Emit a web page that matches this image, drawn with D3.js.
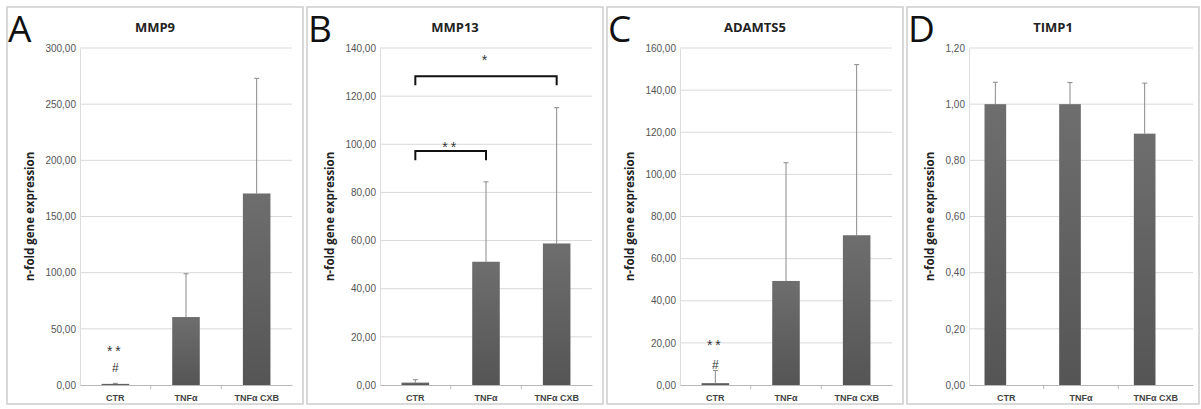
<!DOCTYPE html>
<html>
<head>
<meta charset="utf-8">
<script src="https://cdn.jsdelivr.net/npm/d3@7"></script>
<style>
  body { margin: 0; background: #fff; }
  svg { display: block; }
</style>
</head>
<body>
<div id="chart"></div>
<script>
// data
var categories = ["CTR", "TNFα", "TNFα CXB"];
var panelLetters = ["A", "B", "C", "D"];
var panelTitles = ["MMP9", "MMP13", "ADAMTS5", "TIMP1"];
var meansA = [1.0, 60.5, 170.5], sdA = [0.5, 38.5, 102.5];
var meansB = [1.0, 51.2, 58.8], sdB = [1.2, 33.2, 56.4];
var meansC = [0.9, 49.4, 71.1], sdC = [6.0, 56.1, 81.0];
var meansD = [1.0, 1.0, 0.895], sdD = [0.078, 0.077, 0.18];
var yMaxList = [300, 140, 160, 1.2];
var yStepList = [50, 20, 20, 0.2];
// significance marks: [category index, text, value height]
var marksA = [[0, "**", 25.5], [0, "#", 11.6]];
var marksC = [[0, "**", 16.8], [0, "#", 7.8]];
// brackets: [from, to, bar level, leg level, text, text level]
var bracketsB = [[0, 1, 97.2, 93.4, "**", 97.0], [0, 2, 128.3, 124.5, "*", 133]];

var means = [meansA, meansB, meansC, meansD];
var sds = [sdA, sdB, sdC, sdD];
var marks = [marksA, [], marksC, []];
var brackets = [[], bracketsB, [], []];

// layout
var W = 1201, H = 409;
var frameX0 = [7, 307, 607, 907], frameX1 = [303, 603, 903, 1199];
var plotL = [80, 380, 680, 969], plotR = [292, 592, 892, 1193];
var plotTop = 48, plotBottom = 385;
var barRatio = [0.39, 0.39, 0.39, 0.29];
var barShift = [0, 0, 0, -11];

var svg = d3.select("#chart").append("svg")
    .attr("width", W)
    .attr("height", H);

var defs = svg.append("defs");
var grad = defs.append("linearGradient")
    .attr("id", "barGrad")
    .attr("x1", 0).attr("y1", 0).attr("x2", 0).attr("y2", 1);
grad.append("stop").attr("offset", "0%").attr("stop-color", "#6e6e6e");
grad.append("stop").attr("offset", "100%").attr("stop-color", "#555555");

var fmt = function(v) { return d3.format(".2f")(v).replace(".", ","); };

for (var p = 0; p < 4; p++) {
  var g = svg.append("g");

  // panel frame
  g.append("rect")
      .attr("x", frameX0[p]).attr("y", 7)
      .attr("width", frameX1[p] - frameX0[p])
      .attr("height", 397)
      .style("fill", "none")
      .style("stroke", "#cdcdcd")
      .style("stroke-width", 1.5);

  var x = d3.scaleBand().domain(categories).range([plotL[p], plotR[p]]);
  var y = d3.scaleLinear().domain([0, yMaxList[p]]).range([plotBottom, plotTop]);
  var ticks = d3.range(0, yMaxList[p] + yStepList[p] / 2, yStepList[p]);

  // gridlines
  g.selectAll(".grid").data(ticks.slice(1)).enter().append("line")
      .attr("x1", plotL[p]).attr("x2", plotR[p])
      .attr("y1", function(d) { return y(d); })
      .attr("y2", function(d) { return y(d); })
      .style("stroke", "#d9d9d9")
      .style("stroke-width", 1);

  // y axis
  var yAxis = g.append("g")
      .attr("transform", "translate(" + plotL[p] + ",0)")
      .call(d3.axisLeft(y).tickValues(ticks).tickFormat(fmt).tickSize(0).tickPadding(4));
  yAxis.select(".domain").style("stroke", "#dcdcdc");
  yAxis.selectAll("text")
      .style("font-family", "Liberation Sans, Arial, sans-serif")
      .style("font-size", "10px")
      .style("fill", "#555");

  // x axis
  var xAxis = g.append("g")
      .attr("transform", "translate(0," + plotBottom + ")")
      .call(d3.axisBottom(x).tickSize(0).tickPadding(10));
  xAxis.select(".domain").style("stroke", "#b8b8b8");
  xAxis.selectAll("text")
      .style("font-family", "Liberation Sans, Arial, sans-serif")
      .style("font-size", "9px")
      .style("font-weight", "bold")
      .style("fill", "#444");
  // small ticks between categories
  g.selectAll(".sep").data(categories.slice(1)).enter().append("line")
      .attr("x1", function(d) { return x(d); })
      .attr("x2", function(d) { return x(d); })
      .attr("y1", plotBottom).attr("y2", plotBottom + 4)
      .style("stroke", "#b8b8b8");

  var bw = x.bandwidth() * barRatio[p];
  var cx = function(d, i) { return x(categories[i]) + x.bandwidth() / 2 + barShift[p]; };
  var mv = means[p], sv = sds[p];

  // error bars (upper only)
  g.selectAll(".err").data(mv).enter().append("line")
      .attr("x1", cx).attr("x2", cx)
      .attr("y1", function(d) { return y(d); })
      .attr("y2", function(d, i) { return y(d + sv[i]); })
      .style("stroke", "#8a8a8a")
      .style("stroke-width", 1);
  g.selectAll(".cap").data(mv).enter().append("line")
      .attr("x1", function(d, i) { return cx(d, i) - 2.5; })
      .attr("x2", function(d, i) { return cx(d, i) + 2.5; })
      .attr("y1", function(d, i) { return y(d + sv[i]); })
      .attr("y2", function(d, i) { return y(d + sv[i]); })
      .style("stroke", "#8a8a8a")
      .style("stroke-width", 1);

  // bars
  g.selectAll(".bar").data(mv).enter().append("rect")
      .attr("x", function(d, i) { return cx(d, i) - bw / 2; })
      .attr("y", function(d) { return y(d); })
      .attr("width", bw)
      .attr("height", function(d) { return plotBottom - y(d); })
      .style("fill", "url(#barGrad)");

  // significance marks above bars
  g.selectAll(".mark").data(marks[p]).enter().append("text")
      .attr("x", function(d) { return x(categories[d[0]]) + x.bandwidth() / 2 + barShift[p]; })
      .attr("y", function(d) { return y(d[2]); })
      .attr("text-anchor", "middle")
      .style("font-family", "Liberation Sans, Arial, sans-serif")
      .style("font-size", function(d) { return d[1] == "#" ? "12px" : "14px"; })
      .style("letter-spacing", function(d) { return d[1] == "**" ? "3px" : "0px"; })
      .style("fill", "#333")
      .text(function(d) { return d[1]; });

  // brackets
  brackets[p].forEach(function(b) {
    var xa = x(categories[b[0]]) + x.bandwidth() / 2 + barShift[p];
    var xb = x(categories[b[1]]) + x.bandwidth() / 2 + barShift[p];
    g.append("path")
        .attr("d", "M" + xa + "," + y(b[3]) + "V" + y(b[2]) + "H" + xb + "V" + y(b[3]))
        .style("fill", "none")
        .style("stroke", "#111")
        .style("stroke-width", 2);
    g.append("text")
        .attr("x", (xa + xb) / 2)
        .attr("y", y(b[5]))
        .attr("text-anchor", "middle")
        .style("font-family", "Liberation Sans, Arial, sans-serif")
        .style("font-size", "14px")
        .style("letter-spacing", "3px")
        .style("fill", "#333")
        .text(b[4]);
  });

  // title
  g.append("text")
      .attr("x", (frameX0[p] + frameX1[p]) / 2)
      .attr("y", 32)
      .attr("text-anchor", "middle")
      .style("font-family", "Open Sans, Liberation Sans, sans-serif")
      .style("font-size", "13px")
      .style("font-weight", "bold")
      .style("fill", "#222")
      .text(panelTitles[p]);

  // panel letter
  g.append("text")
      .attr("x", frameX0[p] + 1)
      .attr("y", 42)
      .style("font-family", "Open Sans, Liberation Sans, sans-serif")
      .style("font-size", "37px")
      .style("font-weight", "400")
      .style("fill", "#111")
      .text(panelLetters[p]);

  // y label
  g.append("text")
      .attr("transform", "translate(" + (frameX0[p] + 27) + "," + ((plotTop + plotBottom) / 2) + ") rotate(-90)")
      .attr("text-anchor", "middle")
      .style("font-family", "Open Sans, Liberation Sans, sans-serif")
      .style("font-size", "11.5px")
      .style("font-weight", "bold")
      .style("fill", "#222")
      .text("n-fold gene expression");
}
</script>
</body>
</html>
